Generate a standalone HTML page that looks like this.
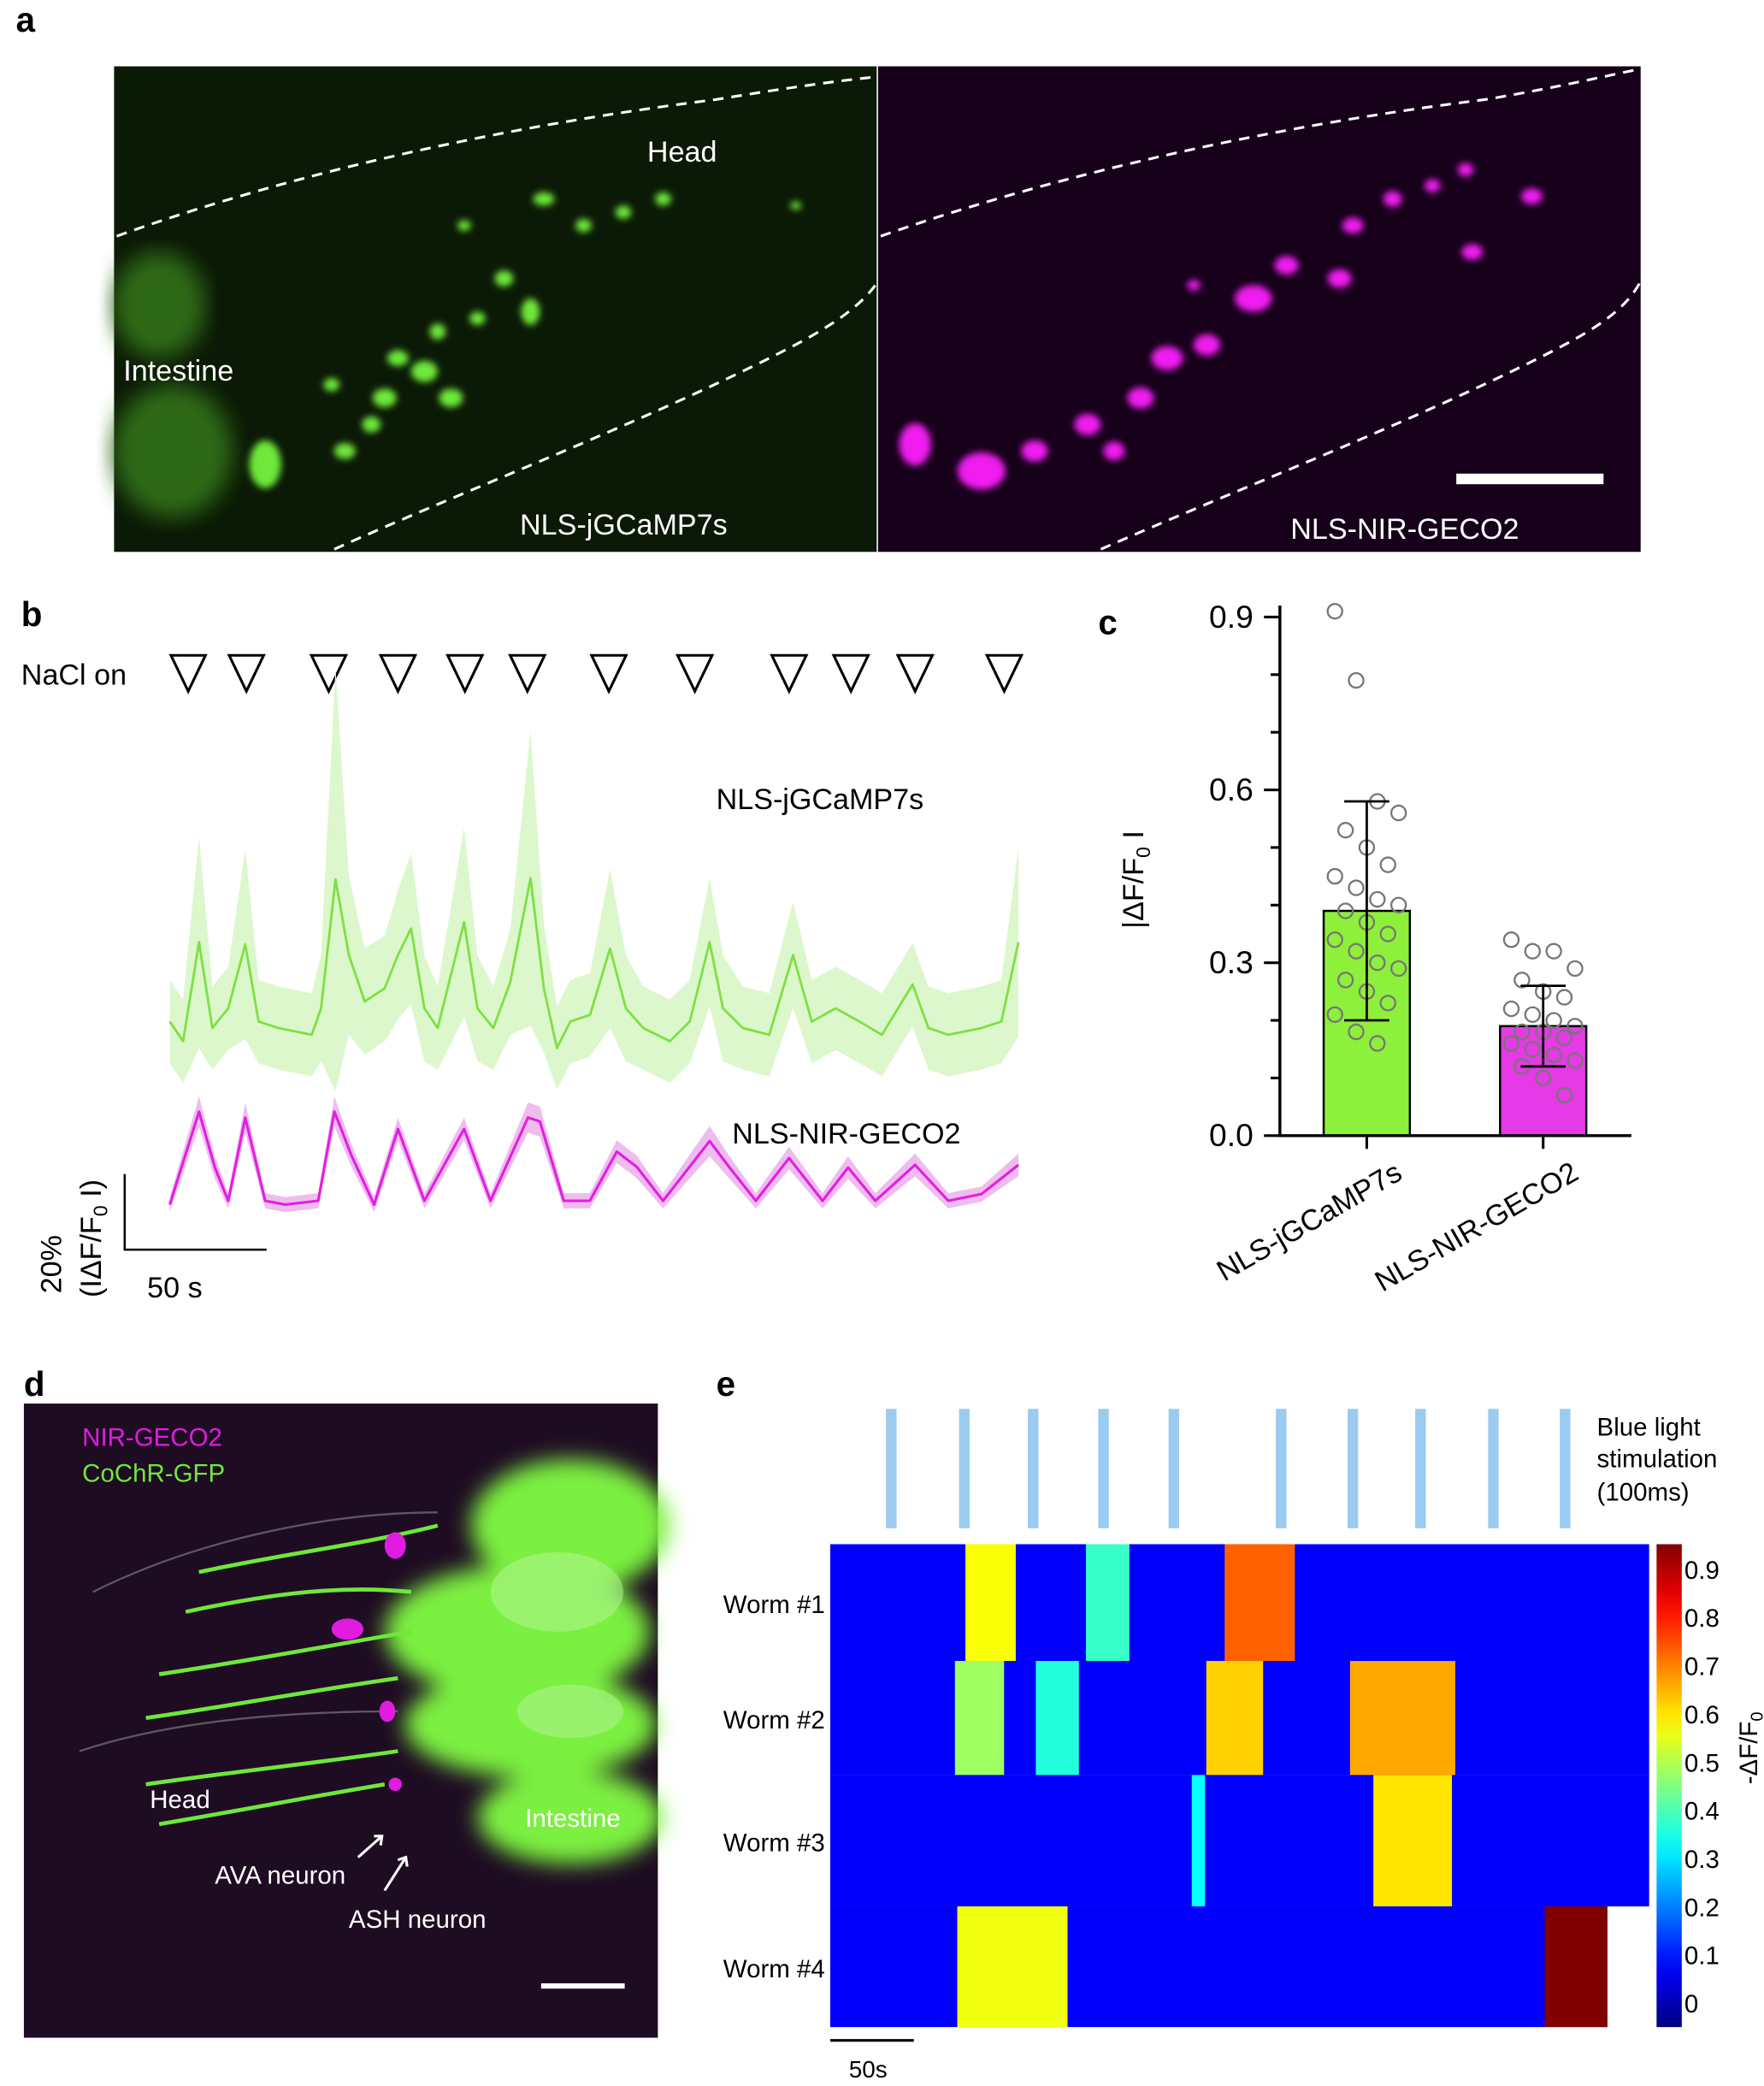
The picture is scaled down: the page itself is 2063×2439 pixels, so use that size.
<!DOCTYPE html>
<html><head><meta charset="utf-8"><style>
html,body{margin:0;padding:0;background:#fff}
svg{display:block}
text{font-family:"Liberation Sans",Arial,sans-serif;}
</style></head><body>
<svg id="fig" width="2063" height="2439" viewBox="0 0 1330 1572.4" xmlns="http://www.w3.org/2000/svg">
<defs>
<filter id="blur2"><feGaussianBlur stdDeviation="2.5"/></filter>
<filter id="blur6"><feGaussianBlur stdDeviation="8"/></filter>
</defs>
<text x="12" y="24" font-size="26" font-weight="bold">a</text>
<text x="16" y="472" font-size="26" font-weight="bold">b</text>
<text x="828" y="478" font-size="26" font-weight="bold">c</text>
<text x="18" y="1052" font-size="26" font-weight="bold">d</text>
<text x="540" y="1052" font-size="26" font-weight="bold">e</text>

<g>
<rect x="86" y="50" width="575" height="366" fill="#0b1a06"/>
<g fill="#6ee83a" filter="url(#blur2)">
<ellipse cx="120" cy="230" rx="35" ry="40" fill="#2e6a18" filter="url(#blur6)"/>
<ellipse cx="130" cy="340" rx="45" ry="50" fill="#2e6a18" filter="url(#blur6)"/>
<ellipse cx="200" cy="350" rx="12" ry="18"/><ellipse cx="260" cy="340" rx="8" ry="6"/>
<ellipse cx="290" cy="300" rx="9" ry="7"/><ellipse cx="320" cy="280" rx="10" ry="8"/>
<ellipse cx="340" cy="300" rx="9" ry="7"/><ellipse cx="300" cy="270" rx="8" ry="6"/>
<ellipse cx="400" cy="235" rx="7" ry="10"/><ellipse cx="380" cy="210" rx="7" ry="6"/>
<ellipse cx="410" cy="150" rx="8" ry="5"/><ellipse cx="440" cy="170" rx="6" ry="5"/>
<ellipse cx="470" cy="160" rx="6" ry="5"/><ellipse cx="500" cy="150" rx="6" ry="5"/>
<ellipse cx="350" cy="170" rx="5" ry="4"/><ellipse cx="250" cy="290" rx="6" ry="5"/>
<ellipse cx="280" cy="320" rx="7" ry="6"/><ellipse cx="360" cy="240" rx="6" ry="5"/>
<ellipse cx="330" cy="250" rx="6" ry="6"/><ellipse cx="600" cy="155" rx="4" ry="3"/>
</g>
<path d="M88,178 C250,120 420,90 540,75 C600,65 640,60 660,58" fill="none" stroke="#fff" stroke-width="2" stroke-dasharray="8,6"/>
<path d="M252,414 C350,370 480,320 580,270 C620,250 645,235 660,215" fill="none" stroke="#fff" stroke-width="2" stroke-dasharray="8,6"/>
<text x="488" y="122" font-size="22" fill="#fff">Head</text>
<text x="93" y="287" font-size="22" fill="#fff">Intestine</text>
<text x="392" y="403" font-size="22" fill="#fff">NLS-jGCaMP7s</text>
</g>
<g>
<rect x="662" y="50" width="575" height="366" fill="#16001a"/>
<g fill="#f01cf0" filter="url(#blur2)">
<ellipse cx="690" cy="335" rx="12" ry="16"/><ellipse cx="740" cy="355" rx="18" ry="14"/>
<ellipse cx="780" cy="340" rx="10" ry="8"/><ellipse cx="820" cy="320" rx="10" ry="8"/>
<ellipse cx="860" cy="300" rx="10" ry="8"/><ellipse cx="880" cy="270" rx="12" ry="9"/>
<ellipse cx="910" cy="260" rx="10" ry="8"/><ellipse cx="945" cy="225" rx="14" ry="10"/>
<ellipse cx="970" cy="200" rx="9" ry="7"/><ellipse cx="1010" cy="210" rx="9" ry="7"/>
<ellipse cx="1020" cy="170" rx="8" ry="6"/><ellipse cx="1050" cy="150" rx="7" ry="6"/>
<ellipse cx="1080" cy="140" rx="6" ry="5"/><ellipse cx="1110" cy="190" rx="8" ry="6"/>
<ellipse cx="1155" cy="148" rx="8" ry="6"/><ellipse cx="1105" cy="128" rx="6" ry="5"/>
<ellipse cx="900" cy="215" rx="5" ry="4"/><ellipse cx="840" cy="340" rx="8" ry="7"/>
</g>
<path d="M664,178 C830,120 1000,90 1120,75 C1180,65 1220,55 1237,52" fill="none" stroke="#fff" stroke-width="2" stroke-dasharray="8,6"/>
<path d="M830,414 C930,370 1060,320 1160,270 C1200,250 1225,235 1237,212" fill="none" stroke="#fff" stroke-width="2" stroke-dasharray="8,6"/>
<rect x="1098" y="357" width="111" height="8" fill="#fff"/>
<text x="973" y="406" font-size="22" fill="#fff">NLS-NIR-GECO2</text>
</g>

<g id="panelB">
<text x="16" y="516" font-size="22">NaCl on</text>
<text x="540" y="610" font-size="22">NLS-jGCaMP7s</text>
<text x="552" y="862" font-size="22">NLS-NIR-GECO2</text>
<path d="M94,885 V942 H201" fill="none" stroke="#000" stroke-width="1.6"/>
<text x="111" y="978" font-size="22">50 s</text>
<text transform="translate(46,975) rotate(-90)" font-size="22">20%</text>
<text transform="translate(76,978) rotate(-90)" font-size="22">(IΔF/F<tspan font-size="15" dy="5">0</tspan><tspan dy="-5"> I)</tspan></text>
</g>

<g id="panelC">
<text transform="translate(862,700) rotate(-90)" font-size="22">|ΔF/F<tspan font-size="15" dy="5">0</tspan><tspan dy="-5"> I</tspan></text>
</g>

<g>
<rect x="18" y="1058" width="478" height="478" fill="#1e0c22"/>
<g fill="#7cf040" filter="url(#blur6)">
<ellipse cx="430" cy="1150" rx="75" ry="50"/><ellipse cx="390" cy="1230" rx="100" ry="50"/>
<ellipse cx="400" cy="1300" rx="95" ry="40"/><ellipse cx="430" cy="1370" rx="70" ry="35"/>
</g>
<g fill="#b6f59a" opacity="0.5"><ellipse cx="420" cy="1200" rx="50" ry="30"/><ellipse cx="430" cy="1290" rx="40" ry="20"/></g>
<g fill="none" stroke="#6ee83a" stroke-width="3">
<path d="M150,1185 C220,1170 270,1165 330,1150"/><path d="M140,1215 C210,1200 260,1195 310,1200"/>
<path d="M120,1262 C200,1250 250,1240 310,1230"/><path d="M110,1295 C180,1285 230,1275 300,1265"/>
<path d="M110,1345 C180,1335 230,1330 300,1320"/><path d="M120,1375 C180,1365 230,1355 290,1345"/>
</g>
<g fill="none" stroke="#777" stroke-width="1.5" opacity="0.7">
<path d="M70,1200 C150,1160 250,1140 330,1140"/><path d="M60,1320 C120,1300 200,1290 300,1290"/>
</g>
<g fill="#e01ce0"><ellipse cx="298" cy="1165" rx="8" ry="10"/><ellipse cx="262" cy="1228" rx="12" ry="8"/><ellipse cx="292" cy="1290" rx="6" ry="8"/><ellipse cx="298" cy="1345" rx="5" ry="5"/></g>
<text x="62" y="1090" font-size="19" fill="#e01ce0">NIR-GECO2</text>
<text x="62" y="1117" font-size="19" fill="#6ee83a">CoChR-GFP</text>
<text x="113" y="1363" font-size="19" fill="#fff">Head</text>
<text x="396" y="1377" font-size="19" fill="#fff">Intestine</text>
<text x="162" y="1420" font-size="19" fill="#fff">AVA neuron</text>
<text x="263" y="1453" font-size="19" fill="#fff">ASH neuron</text>
<path d="M270,1400 L288,1384 M282,1384 L288,1384 L287,1391" stroke="#fff" stroke-width="2" fill="none"/>
<path d="M290,1425 L306,1400 M300,1402 L306,1400 L307,1407" stroke="#fff" stroke-width="2" fill="none"/>
<rect x="408" y="1495" width="63" height="4" fill="#fff"/>
</g>

<g id="panelE">
<text x="1204" y="1082" font-size="19">Blue light</text>
<text x="1204" y="1106" font-size="19">stimulation</text>
<text x="1204" y="1131" font-size="19">(100ms)</text>
<path d="M626,1538 H689" stroke="#000" stroke-width="2"/>
<text x="640" y="1566" font-size="18">50s</text>
<text transform="translate(1325,1345) rotate(-90)" font-size="19">-ΔF/F<tspan font-size="13" dy="4">0</tspan></text>
</g>

<script>
var greenTimes = [0,4.7,10.3,15,20.6,26.6,31.3,38.3,50,53.3,58.4,63.1,68.7,75.7,80.4,85,89.7,94.4,103.7,108.4,114,120,127.1,131.8,136.4,141.1,148.1,155.1,160.7,166.8,176.2,183.2,190.2,194.9,201.9,211.2,219.6,226.2,234.6,243,250.9,261.7,267.3,274.3,286,293,299];
var greenMean = [7,1.8,28,5.3,10.5,27.4,7,5.3,3.5,10.5,44.6,24.6,12.3,15.8,24.6,31.6,10.5,5.3,33.3,10.5,5.3,17.5,44.9,15.8,0,7,8.8,26.3,10.5,5.3,1.8,7,28,10.5,5.3,3.5,24.6,7,10.5,7,3.5,16.8,5.3,3.5,5.3,7,28];
var greenSD = [11,11,28,11,11,25,11,11,11,14,56,21,14,14,17,20,14,11,25,14,11,14,39,17,11,11,11,21,14,11,11,11,17,14,11,11,14,11,11,11,11,11,11,11,11,11,25];
var magTimes = [0,10.3,15.9,20.6,26.6,33.6,40.7,52.3,58,64,72,80.4,89.7,103.7,113,126.2,130.4,138.8,148,157.5,164.5,173.8,190.2,197,206.5,218.2,230,239,248.6,262.6,274.3,286,299];
var magMean = [0,24.6,9.8,1,23,1,0,1,24.6,13,0,20,1,20,1,23,22,1,1,14,10,1,16.8,10,1,12.3,1,9.8,1,10.5,1,2.8,10.5];
var magSD = [2,4,3,2,4,2,2,2,4,3,2,3,2,3,2,4,4,2,2,3,3,2,4,3,2,3,2,3,2,3,2,2,3];
var nacl = [6.5,27,56,80.4,104,126,154.7,185,218.2,240,262.6,294];

var groups = ["NLS-jGCaMP7s","NLS-NIR-GECO2"];
var groupMeans = [0.39,0.19];
var groupSD = [0.19,0.07];
var greenPts = [0.91,0.79,0.58,0.56,0.53,0.50,0.47,0.45,0.43,0.41,0.40,0.39,0.37,0.35,0.34,0.32,0.30,0.29,0.27,0.25,0.23,0.21,0.18,0.16];
var magPts = [0.34,0.32,0.32,0.29,0.27,0.25,0.24,0.22,0.21,0.20,0.19,0.18,0.18,0.17,0.16,0.15,0.14,0.13,0.12,0.10,0.07];
var cTicks = [0,0.3,0.6,0.9];

var stimTimes = [36.5,80.2,121.4,163.5,205.6,269.8,312.7,353.2,396.8,439.7];
var worms = ["Worm #1","Worm #2","Worm #3","Worm #4"];
var wormEnd = [490,490,490,465];
var baseline = 0.07;
var w1 = [[80.9,111,0.57],[153,179,0.38],[236,278,0.73]];
var w2 = [[74.6,104,0.48],[123,148.8,0.36],[225,259,0.62],[311,374,0.66]];
var w3 = [[216.3,224.2,0.33],[325,372,0.6]];
var w4 = [[76,142,0.56],[427.5,465,0.95]];
var cbTicks = [0,0.1,0.2,0.3,0.4,0.5,0.6,0.7,0.8,0.9];

var NS="http://www.w3.org/2000/svg";
function mk(tag, attrs, parent){var e=document.createElementNS(NS,tag);for(var k in attrs)e.setAttribute(k,attrs[k]);parent.appendChild(e);return e;}

var gB=document.getElementById('panelB');
function bx(t){return 128+t*107/50;}
function byG(v){return 790-v*57/20;}
function byM(v){return 908-v*57/20;}
nacl.forEach(function(t){
  var x=bx(t);
  var p=mk('path',{d:'M'+(x-13)+',494 L'+(x+13)+',494 L'+x+',521 Z',fill:'none',stroke:'#000','stroke-width':2},gB);
  
  
});
function band(times,mean,sd,yf,fill,name){
  var up=times.map(function(t,i){return bx(t)+','+yf(mean[i]+sd[i]);});
  var lo=times.map(function(t,i){return bx(t)+','+yf(mean[i]-sd[i]);}).reverse();
  var p=mk('polygon',{points:up.concat(lo).join(' '),fill:fill},gB);
  
  
}
function line(times,mean,yf,col,w,name){
  var p=mk('polyline',{points:times.map(function(t,i){return bx(t)+','+yf(mean[i]);}).join(' '),fill:'none',stroke:col,'stroke-width':w,'stroke-linejoin':'round'},gB);
  
  
}
band(greenTimes,greenMean,greenSD,byG,'#dcf7cc','green-sd-band');
line(greenTimes,greenMean,byG,'#7ee043',1.8,'green-mean-trace');
band(magTimes,magMean,magSD,byM,'#eebdee','magenta-sd-band');
line(magTimes,magMean,byM,'#e21ee2',2,'magenta-mean-trace');

var gC=document.getElementById('panelC');
function cy(v){return 856-v*130.3/0.3;}
var barX=[998,1131], barW=65;
var barFill=['#8df03a','#e53ae5'];
groups.forEach(function(g,i){
  var r=mk('rect',{x:barX[i],y:cy(groupMeans[i]),width:barW,height:856-cy(groupMeans[i]),fill:barFill[i],stroke:'#000','stroke-width':1.6},gC);
  
  
  var cx=barX[i]+barW/2;
  var pts=i==0?greenPts:magPts;
  pts.forEach(function(v,j){
    var off=((j*37)%7-3)*8;
    var c=mk('circle',{cx:cx+off,cy:cy(v),r:5.5,fill:'none',stroke:'#777','stroke-width':1.5},gC);
    
    
  });
  var e=mk('path',{d:'M'+cx+','+cy(groupMeans[i]-groupSD[i])+' V'+cy(groupMeans[i]+groupSD[i])+' M'+(cx-17)+','+cy(groupMeans[i]+groupSD[i])+' H'+(cx+17)+' M'+(cx-17)+','+cy(groupMeans[i]-groupSD[i])+' H'+(cx+17),stroke:'#000','stroke-width':1.8,fill:'none'},gC);
  
  
  var t=mk('text',{transform:'translate('+(cx+28)+',888) rotate(-30)','text-anchor':'end','font-size':22},gC);
  t.textContent=g;
  
  
  var tk=mk('line',{x1:cx,x2:cx,y1:856,y2:866,stroke:'#000','stroke-width':2},gC);
  
  
});
var ax=mk('path',{d:'M965,'+cy(0.92)+' V856 H1230',stroke:'#000','stroke-width':2.2,fill:'none'},gC);


for(var k=0;k<=9;k++){
  var v=k*0.1, major=(k%3==0);
  var l=mk('line',{x1:major?953:958,x2:965,y1:cy(v),y2:cy(v),stroke:'#000','stroke-width':2},gC);
  
  
}
cTicks.forEach(function(v){
  var t=mk('text',{x:945,y:cy(v)+8,'text-anchor':'end','font-size':24},gC);
  t.textContent=v.toFixed(1);
  
  
});

var gE=document.getElementById('panelE');
function ex(t){return 626+t*63/50;}
function jet(v){var f=(v+0.05)/1.0;function c(x){return Math.round(255*Math.max(0,Math.min(1,x)));}
  return 'rgb('+c(1.5-Math.abs(4*f-3))+','+c(1.5-Math.abs(4*f-2))+','+c(1.5-Math.abs(4*f-1))+')';}
stimTimes.forEach(function(t){
  var r=mk('rect',{x:ex(t)-4,y:1062,width:8,height:90,fill:'#9ccbf0'},gE);
  
  
});
var rowY=[1164,1252,1338,1437,1528];
var segs=[w1,w2,w3,w4];
worms.forEach(function(w,i){
  var r=mk('rect',{x:626,y:rowY[i],width:ex(wormEnd[i])-626,height:rowY[i+1]-rowY[i],fill:jet(baseline)},gE);
  
  
  segs[i].forEach(function(s){
    var c=mk('rect',{x:ex(s[0]),y:rowY[i],width:ex(s[1])-ex(s[0]),height:rowY[i+1]-rowY[i],fill:jet(s[2])},gE);
    
    
  });
  var t=mk('text',{x:622,y:(rowY[i]+rowY[i+1])/2+8,'text-anchor':'end','font-size':19},gE);
  t.textContent=w;
  
  
});
var grad=mk('linearGradient',{id:'jetg',x1:0,y1:1,x2:0,y2:0},document.querySelector('defs'));
for(var s=0;s<=20;s++){mk('stop',{offset:s/20,'stop-color':jet(-0.05+s/20)},grad);}
function cby(v){return 1510-v*(1510-1183)/0.9;}
var cb=mk('rect',{x:1249,y:1164,width:19,height:364,fill:'url(#jetg)'},gE);


cbTicks.forEach(function(v){
  var t=mk('text',{x:1270,y:cby(v)+7,'font-size':19},gE);
  t.textContent=v==0?'0':v.toFixed(1);
  
  
});
</script>
</svg>
</body></html>
